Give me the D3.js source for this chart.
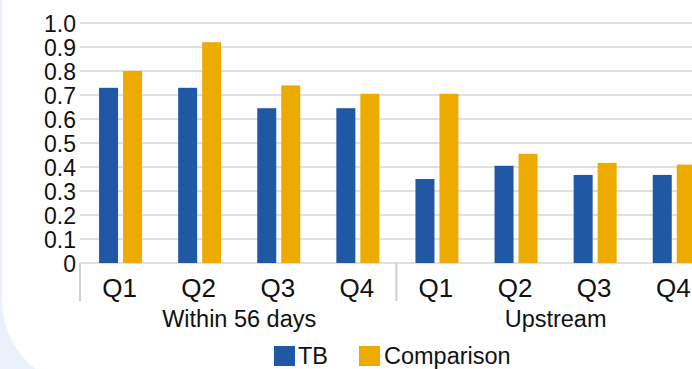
<!DOCTYPE html>
<html>
<head>
<meta charset="utf-8">
<script src="https://cdn.jsdelivr.net/npm/d3@7"></script>
<style>
  html, body { margin: 0; padding: 0; background: #ebf1fa; }
  svg { display: block; font-family: "Liberation Sans", Arial, Helvetica, sans-serif; }
</style>
</head>
<body>
<svg id="chart" width="692" height="369"></svg>
<script>
// ---- data ----
const groups = ["Within 56 days", "Upstream"];
const quarters = ["Q1", "Q2", "Q3", "Q4"];
const seriesNames = ["TB", "Comparison"];
const tbValues = [0.73, 0.73, 0.645, 0.645, 0.35, 0.405, 0.367, 0.367];
const comparisonValues = [0.80, 0.92, 0.74, 0.705, 0.705, 0.455, 0.417, 0.41];
const yTickValues = [0, 0.1, 0.2, 0.3, 0.4, 0.5, 0.6, 0.7, 0.8, 0.9, 1.0];
const yTickLabels = ["0", "0.1", "0.2", "0.3", "0.4", "0.5", "0.6", "0.7", "0.8", "0.9", "1.0"];
const colors = ["#1f58a5", "#edab00"];

// ---- build ----
const categories = [];
groups.forEach((g, gi) => quarters.forEach((q, qi) => categories.push({ id: gi * 4 + qi, group: g, q })));
const seriesValues = [tbValues, comparisonValues];

const svg = d3.select("#chart");
const W = 692, H = 369;

// background card
svg.append("rect").attr("width", W).attr("height", H).attr("fill", "#ebf1fa");
svg.append("path")
  .attr("d", "M2,-10 L700,-10 L700,388 L90,388 A88,88 0 0 1 2,300 Z")
  .attr("fill", "#ffffff");

const left = 81, step = 79.1;
const x = d3.scaleBand().domain(categories.map(d => d.id)).range([left, left + step * categories.length]).padding(0);
const groupWidth = 43;
const x1 = d3.scaleBand().domain(seriesNames).range([0, groupWidth]).paddingInner(2 - groupWidth / 24).paddingOuter(0);
const y = d3.scaleLinear().domain([0, 1]).range([263, 23]);

// gridlines
svg.append("g").selectAll("line").data(yTickValues).join("line")
  .attr("x1", 80).attr("x2", W)
  .attr("y1", d => y(d)).attr("y2", d => y(d))
  .attr("stroke", "#d4d4d4").attr("stroke-width", 1.5);

// y axis labels
const yAxis = d3.axisLeft(y).tickValues(yTickValues).tickFormat((d, i) => yTickLabels[i]).tickSize(0).tickPadding(0);
const yg = svg.append("g").attr("transform", "translate(76,0)").call(yAxis);
yg.select(".domain").remove();
yg.selectAll("text").attr("font-size", 23).attr("fill", "#111").attr("font-family", "Liberation Sans, Arial, sans-serif").attr("dy", "0.36em");

// bars
const cat = svg.append("g").selectAll("g").data(categories).join("g")
  .attr("transform", d => `translate(${x(d.id) + x.bandwidth() / 2 - groupWidth / 2},0)`);
cat.selectAll("rect").data(d => seriesNames.map((s, si) => ({ s, si, v: seriesValues[si][d.id] }))).join("rect")
  .attr("x", d => x1(d.s))
  .attr("width", x1.bandwidth())
  .attr("y", d => y(d.v))
  .attr("height", d => y(0) - y(d.v))
  .attr("fill", d => colors[d.si]);

// category separators
const sepIdx = [0, 4];
svg.append("g").selectAll("line").data(sepIdx).join("line")
  .attr("x1", d => x(d) - 1).attr("x2", d => x(d) - 1)
  .attr("y1", 263).attr("y2", 301)
  .attr("stroke", "#cfcfcf").attr("stroke-width", 2);

// quarter labels
svg.append("g").selectAll("text").data(categories).join("text")
  .attr("x", d => x(d.id) + x.bandwidth() / 2 - 1)
  .attr("y", 297)
  .attr("text-anchor", "middle")
  .attr("font-size", 26)
  .attr("fill", "#111")
  .text(d => d.q);

// group labels
svg.append("g").selectAll("text").data(groups).join("text")
  .attr("x", (d, i) => x(i * 4) + (x(i * 4 + 3) + x.bandwidth() - x(i * 4)) / 2)
  .attr("y", 327)
  .attr("text-anchor", "middle")
  .attr("font-size", 23.5)
  .attr("fill", "#111")
  .text(d => d);

// legend
const legendItems = [{ name: seriesNames[0], sx: 274, tx: 298 }, { name: seriesNames[1], sx: 359, tx: 384 }];
const lg = svg.append("g");
lg.selectAll("rect").data(legendItems).join("rect")
  .attr("x", d => d.sx).attr("y", 346).attr("width", 21).attr("height", 20)
  .attr("fill", (d, i) => colors[i]);
lg.selectAll("text").data(legendItems).join("text")
  .attr("x", d => d.tx).attr("y", 364)
  .attr("font-size", 23.5).attr("fill", "#111")
  .text(d => d.name);
</script>
</body>
</html>
